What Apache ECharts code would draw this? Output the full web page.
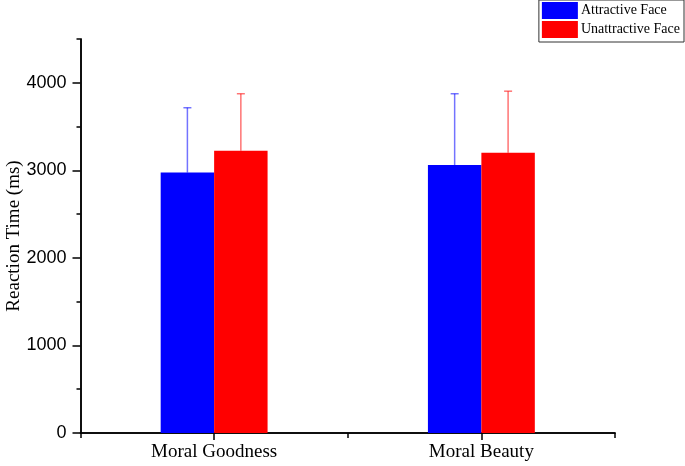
<!DOCTYPE html>
<html>
<head>
<meta charset="utf-8">
<script src="https://cdn.jsdelivr.net/npm/echarts@6/dist/echarts.min.js"></script>
<style>
html,body{margin:0;padding:0;background:#fff;}
#chart{width:685px;height:466px;}
</style>
</head>
<body>
<div id="chart"></div>
<script>
const categories = ['Moral Goodness', 'Moral Beauty'];
const seriesNames = ['Attractive Face', 'Unattractive Face'];
const attractiveMean = [2974, 3061];
const attractiveErr = [741, 814];
const unattractiveMean = [3225, 3202];
const unattractiveErr = [650, 702];
const yTickLabels = [0, 1000, 2000, 3000, 4000];

const serif = 'Liberation Serif, Times New Roman, serif';
const sans = 'Liberation Sans, Arial, sans-serif';

function errorSeries(name, means, errs, color, side) {
  return {
    type: 'custom',
    name: name + ' err',
    xAxisIndex: 0,
    yAxisIndex: 0,
    z: 3,
    silent: true,
    data: means.map((m, i) => [i, m, errs[i]]),
    renderItem: function (params, api) {
      const base = api.coord([api.value(0), api.value(1)]);
      const top = api.coord([api.value(0), api.value(1) + api.value(2)]);
      const band = api.size([1, 0])[0];
      const x = base[0] + side * 0.1 * band;
      const style = { stroke: color, lineWidth: 1.5, opacity: 0.55 };
      return {
        type: 'group',
        children: [
          { type: 'line', shape: { x1: x, y1: base[1], x2: x, y2: top[1] }, style: style },
          { type: 'line', shape: { x1: x - 4, y1: top[1], x2: x + 4, y2: top[1] }, style: style }
        ]
      };
    }
  };
}

const axisLineStyle = { color: '#000', width: 1.5 };

const chart = echarts.init(document.getElementById('chart'));
chart.setOption({
  animation: false,
  backgroundColor: '#fff',
  grid: { left: 80.5, right: 70, top: 39, bottom: 33, containLabel: false, outerBoundsMode: 'none' },
  legend: {
    data: seriesNames,
    orient: 'vertical',
    right: 1,
    top: 0,
    itemWidth: 36,
    itemHeight: 17,
    itemGap: 2,
    padding: [2, 4, 4, 3],
    borderColor: '#333',
    borderWidth: 1,
    selectedMode: false,
    icon: 'rect',
    textStyle: { fontFamily: serif, fontSize: 14, color: '#000', padding: [0, 0, 0, -2] }
  },
  xAxis: [
    {
      type: 'category',
      data: categories,
      axisLine: { lineStyle: axisLineStyle },
      axisTick: { show: true, alignWithLabel: false, length: 5, lineStyle: axisLineStyle },
      axisLabel: { fontFamily: serif, fontSize: 19, color: '#000', margin: 10 },
      splitLine: { show: false }
    },
    {
      type: 'category',
      data: categories,
      position: 'bottom',
      axisLine: { show: true, lineStyle: axisLineStyle },
      axisTick: { show: true, alignWithLabel: true, length: 7, lineStyle: axisLineStyle },
      axisLabel: { show: false },
      splitLine: { show: false }
    }
  ],
  yAxis: [
    {
      type: 'value',
      min: 0,
      max: 4500,
      interval: 500,
      name: 'Reaction Time (ms)',
      nameLocation: 'middle',
      nameGap: 57,
      nameTextStyle: { fontFamily: serif, fontSize: 19, color: '#000' },
      axisLine: { show: true, lineStyle: axisLineStyle },
      axisTick: { show: true, length: 4, lineStyle: axisLineStyle },
      axisLabel: { show: false },
      splitLine: { show: false }
    },
    {
      type: 'value',
      min: 0,
      max: 4500,
      position: 'left',
      axisLine: { show: true, lineStyle: axisLineStyle },
      axisTick: { show: true, length: 8, customValues: yTickLabels, lineStyle: axisLineStyle },
      axisLabel: { show: true, customValues: yTickLabels, fontFamily: sans, fontSize: 18, color: '#000', margin: 14, formatter: v => String(v) },
      splitLine: { show: false }
    }
  ],
  series: [
    {
      name: seriesNames[0],
      type: 'bar',
      xAxisIndex: 0,
      yAxisIndex: 0,
      data: attractiveMean,
      barWidth: '20%',
      barGap: '0%',
      itemStyle: { color: '#0000ff' }
    },
    {
      name: seriesNames[1],
      type: 'bar',
      xAxisIndex: 0,
      yAxisIndex: 0,
      data: unattractiveMean,
      barWidth: '20%',
      barGap: '0%',
      itemStyle: { color: '#ff0000' }
    },
    errorSeries(seriesNames[0], attractiveMean, attractiveErr, '#0000ff', -1),
    errorSeries(seriesNames[1], unattractiveMean, unattractiveErr, '#ff0000', 1)
  ]
});
</script>
</body>
</html>
